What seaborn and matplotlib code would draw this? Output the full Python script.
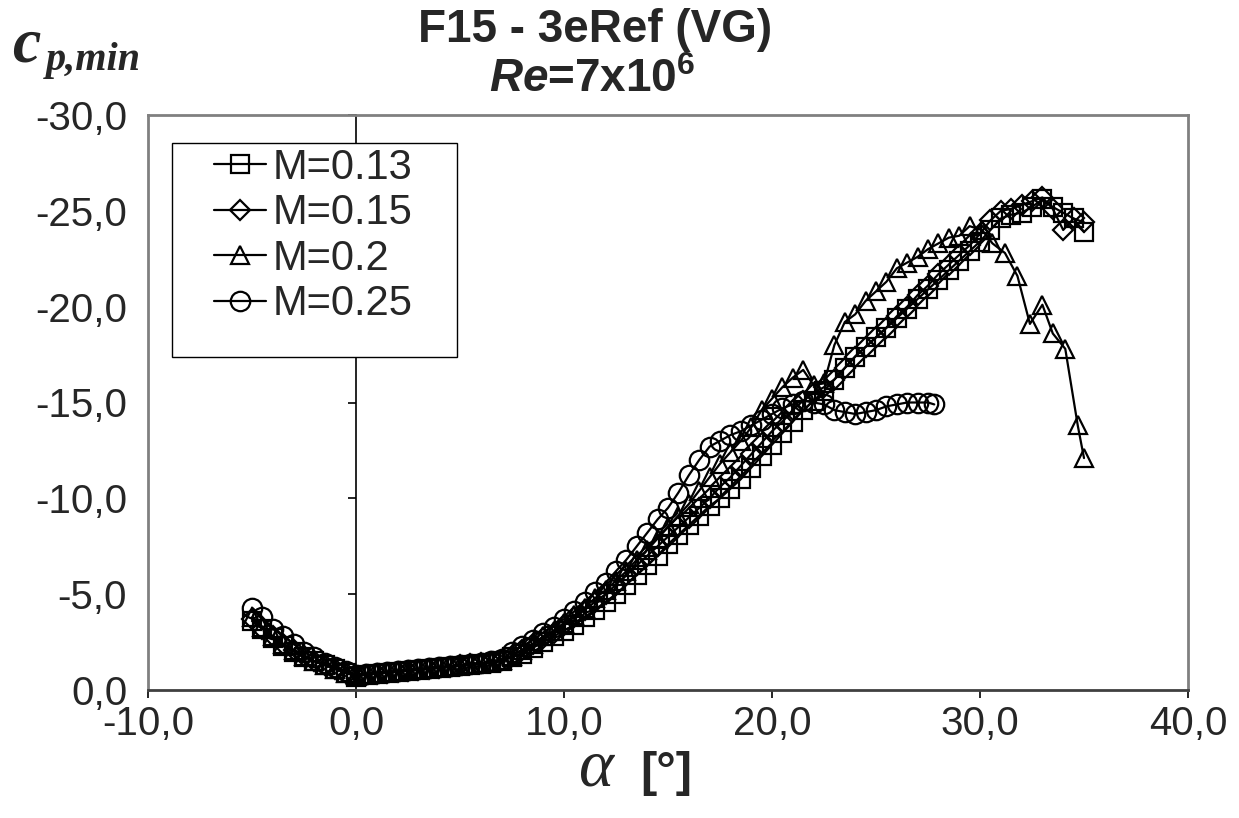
import numpy as np
import pandas as pd
import seaborn as sns
import matplotlib
matplotlib.use("Agg")
import matplotlib.pyplot as plt
from matplotlib.patches import Rectangle

# ---------------- data ----------------
alpha_013 = [-5.0, -4.5, -4.0, -3.5, -3.0, -2.5, -2.0, -1.5, -1.0, -0.5, 0.0,
             0.5, 1.0, 1.5, 2.0, 2.5, 3.0, 3.5, 4.0, 4.5, 5.0, 5.5, 6.0, 6.5, 7.0,
             7.5, 8.0, 8.5, 9.0, 9.5, 10.0, 10.5, 11.0, 11.5, 12.0, 12.5, 13.0, 13.5,
             14.0, 14.5, 15.0, 15.5, 16.0, 16.5, 17.0, 17.5, 18.0, 18.5, 19.0, 19.5,
             20.0, 20.5, 21.0, 21.5, 22.0, 22.5, 23.0, 23.5, 24.0, 24.5, 25.0, 25.5,
             26.0, 26.5, 27.0, 27.5, 28.0, 28.5, 29.0, 29.5, 30.0, 30.5, 31.0, 31.5,
             32.0, 32.5, 33.0, 33.5, 34.0, 34.5, 35.0]
cp_013 = [-3.6, -3.2, -2.7, -2.3, -2.0, -1.7, -1.5, -1.3, -1.1, -0.9, -0.7,
          -0.8, -0.85, -0.9, -0.95, -1.0, -1.05, -1.1, -1.15, -1.2, -1.25, -1.3, -1.35, -1.4, -1.5,
          -1.7, -1.9, -2.2, -2.5, -2.8, -3.1, -3.4, -3.8, -4.2, -4.6, -5.0, -5.5, -6.0,
          -6.5, -7.0, -7.6, -8.1, -8.6, -9.1, -9.6, -10.0, -10.5, -11.0, -11.6, -12.2,
          -12.8, -13.4, -14.0, -14.6, -15.1, -15.6, -16.2, -16.8, -17.4, -17.9, -18.4, -18.9,
          -19.4, -19.9, -20.4, -20.9, -21.4, -21.9, -22.4, -22.9, -23.4, -24.0, -24.6, -24.8,
          -24.9, -25.2, -25.6, -25.2, -24.9, -24.6, -23.9]

alpha_015 = [-5.0, -4.5, -4.0, -3.5, -3.0, -2.5, -2.0, -1.5, -1.0, -0.5, 0.0,
             0.5, 1.0, 1.5, 2.0, 2.5, 3.0, 3.5, 4.0, 4.5, 5.0, 5.5, 6.0, 6.5, 7.0,
             7.5, 8.0, 8.5, 9.0, 9.5, 10.0, 10.5, 11.0, 11.5, 12.0, 12.5, 13.0, 13.5,
             14.0, 14.5, 15.0, 15.5, 16.0, 16.5, 17.0, 17.5, 18.0, 18.5, 19.0, 19.5,
             20.0, 20.5, 21.0, 21.5, 22.0, 22.5, 23.0, 23.5, 24.0, 24.5, 25.0, 25.5,
             26.0, 26.5, 27.0, 27.5, 28.0, 28.5, 29.0, 29.5, 30.0, 30.5, 31.0, 31.5,
             32.0, 32.5, 33.0, 33.5, 34.0, 34.5, 35.0]
cp_015 = [-3.7, -3.2, -2.8, -2.4, -2.1, -1.8, -1.5, -1.3, -1.1, -0.9, -0.75,
          -0.8, -0.85, -0.9, -0.95, -1.0, -1.05, -1.1, -1.15, -1.2, -1.3, -1.35, -1.4, -1.45, -1.55,
          -1.8, -2.1, -2.4, -2.7, -3.0, -3.4, -3.8, -4.2, -4.6, -5.0, -5.5, -6.0, -6.5,
          -7.0, -7.5, -8.0, -8.5, -9.0, -9.5, -10.0, -10.6, -11.1, -11.7, -12.3, -12.9,
          -13.5, -14.0, -14.6, -15.1, -15.5, -15.8, -16.2, -16.8, -17.4, -17.9, -18.4, -18.9,
          -19.5, -20.0, -20.6, -21.1, -21.7, -22.2, -22.7, -23.2, -23.8, -24.5, -25.0, -25.1,
          -25.3, -25.5, -25.7, -25.1, -24.0, -24.6, -24.4]

alpha_020 = [-5.0, -4.5, -4.0, -3.5, -3.0, -2.5, -2.0, -1.5, -1.0, -0.5, 0.0,
             0.5, 1.0, 1.5, 2.0, 2.5, 3.0, 3.5, 4.0, 4.5, 5.0, 5.5, 6.0, 6.5, 7.0,
             7.5, 8.0, 8.5, 9.0, 9.5, 10.0, 10.5, 11.0, 11.5, 12.0, 12.5, 13.0, 13.5,
             14.0, 14.5, 15.0, 15.5, 16.0, 16.5, 17.0, 17.5, 18.0, 18.5, 19.0, 19.5,
             20.0, 20.5, 21.0, 21.5, 22.0, 22.5, 23.0, 23.5, 24.0, 24.5, 25.0, 25.5,
             26.0, 26.5, 27.0, 27.5, 28.0, 28.5, 29.0, 29.5, 30.1, 30.6, 31.2, 31.8,
             32.4, 33.0, 33.5, 34.1, 34.7, 35.0]
cp_020 = [-3.8, -3.3, -2.8, -2.4, -2.1, -1.8, -1.5, -1.3, -1.1, -0.9, -0.8,
          -0.85, -0.9, -0.95, -1.0, -1.05, -1.1, -1.15, -1.2, -1.25, -1.3, -1.35, -1.4, -1.45, -1.55,
          -1.8, -2.1, -2.4, -2.8, -3.1, -3.5, -3.9, -4.3, -4.8, -5.2, -5.7, -6.2, -6.8,
          -7.3, -7.9, -8.5, -9.1, -9.7, -10.4, -11.1, -11.8, -12.4, -13.0, -13.7, -14.6,
          -15.2, -15.8, -16.3, -16.7, -15.9, -16.0, -18.0, -19.2, -19.6, -20.3, -20.8, -21.3,
          -22.0, -22.3, -22.6, -23.0, -23.3, -23.6, -23.7, -24.2, -24.0, -23.3, -22.8, -21.6,
          -19.1, -20.1, -18.6, -17.8, -13.8, -12.1]

alpha_025 = [-5.0, -4.5, -4.0, -3.5, -3.0, -2.5, -2.0, -1.5, -1.0, -0.5, 0.0,
             0.5, 1.0, 1.5, 2.0, 2.5, 3.0, 3.5, 4.0, 4.5, 5.0, 5.5, 6.0, 6.5, 7.0,
             7.5, 8.0, 8.5, 9.0, 9.5, 10.0, 10.5, 11.0, 11.5, 12.0, 12.5, 13.0, 13.5,
             14.0, 14.5, 15.0, 15.5, 16.0, 16.5, 17.0, 17.5, 18.0, 18.5, 19.0, 19.5,
             20.0, 20.5, 21.0, 21.5, 22.0, 22.5, 23.0, 23.5, 24.0, 24.5, 25.0, 25.5,
             26.0, 26.5, 27.0, 27.5, 27.8]
cp_025 = [-4.3, -3.8, -3.2, -2.8, -2.4, -2.0, -1.7, -1.4, -1.2, -1.0, -0.8,
          -0.85, -0.9, -0.95, -1.0, -1.05, -1.1, -1.15, -1.2, -1.25, -1.3, -1.35, -1.4, -1.5, -1.6,
          -2.0, -2.3, -2.6, -3.0, -3.3, -3.7, -4.1, -4.6, -5.1, -5.6, -6.2, -6.8, -7.5,
          -8.2, -8.9, -9.5, -10.3, -11.2, -12.0, -12.7, -13.0, -13.3, -13.5, -13.8, -14.1,
          -14.4, -14.7, -14.9, -15.1, -15.0, -14.9, -14.6, -14.5, -14.4, -14.5, -14.6, -14.8,
          -14.9, -15.0, -15.0, -15.0, -14.9]

series_labels = ["M=0.13", "M=0.15", "M=0.2", "M=0.25"]
series_markers = ["s", "D", "^", "o"]
x_ticks = [-10, 0, 10, 20, 30, 40]
y_ticks = [-30, -25, -20, -15, -10, -5, 0]

# ---------------- figure ----------------
sns.set_style("white")
plt.rcParams["font.family"] = ["Liberation Sans", "DejaVu Sans"]
plt.rcParams["mathtext.fontset"] = "custom"
plt.rcParams["mathtext.it"] = "Liberation Sans:italic:bold"
plt.rcParams["mathtext.rm"] = "Liberation Sans:bold"
plt.rcParams["mathtext.bf"] = "Liberation Sans:bold"

W, H = 1239, 818
fig = plt.figure(figsize=(W / 100, H / 100), dpi=100)
ax = fig.add_axes([148 / W, 1 - 690 / H, (1188 - 148) / W, (690 - 115) / H])

data = [(alpha_013, cp_013), (alpha_015, cp_015), (alpha_020, cp_020), (alpha_025, cp_025)]
msizes = {"s": 13, "D": 10, "^": 13, "o": 14}
for (a, c), lab, mk in zip(data, series_labels, series_markers):
    df = pd.DataFrame({"alpha": a, "cp": c})
    sns.lineplot(data=df, x="alpha", y="cp", ax=ax, color="black", lw=1.6,
                 marker=mk, markersize=msizes[mk], markerfacecolor="none",
                 markeredgecolor="black", mew=1.6, label=lab, legend=False,
                 sort=False, estimator=None)

ax.set_xlim(-10, 40)
ax.set_ylim(0, -30)
ax.set_xticks(x_ticks)
ax.set_yticks(y_ticks)
ax.set_xticklabels([f"{v:.1f}".replace(".", ",") for v in x_ticks])
ax.set_yticklabels([f"{v:.1f}".replace(".", ",") for v in y_ticks])
ax.set_xlabel("")
ax.set_ylabel("")

for s in ax.spines.values():
    s.set_color("#808080")
    s.set_linewidth(2)
ax.spines["bottom"].set_color("#404040")

ax.tick_params(axis="x", which="both", direction="out", length=6, width=1.2,
               color="black", labelsize=29, pad=5, bottom=True)
ax.tick_params(axis="y", which="both", length=0, labelsize=29, pad=15, left=True)

# y-axis line crossing at alpha = 0
sec = ax.secondary_yaxis(0.2)
sec.set_yticks(y_ticks)
sec.tick_params(axis="y", direction="out", length=6, width=1.2, color="black",
                labelleft=False, labelright=False)
sec.spines["left"].set_color("black")
sec.spines["left"].set_linewidth(1.2)

# legend (frame drawn separately)
leg = ax.legend(loc="upper left", bbox_to_anchor=(214 / W, 1 - 148 / H),
                bbox_transform=fig.transFigure, fontsize=30,
                frameon=False, handlelength=1.25, handletextpad=0.15,
                borderpad=0, labelspacing=0.13, borderaxespad=0)
frame = Rectangle((172 / W, 1 - 357 / H), (457 - 172) / W, (357 - 143) / H,
                  transform=fig.transFigure, fill=True, facecolor="white",
                  edgecolor="black", linewidth=1.0, zorder=4)
ax.add_patch(frame)
leg.set_zorder(6)

# titles
fig.text(595 / W, 1 - 30 / H, "F15 - 3eRef (VG)", ha="center", va="center",
         fontsize=33, fontweight="bold")
fig.text(592 / W, 1 - 80 / H, r"$\mathit{Re}$=7x10$^{6}$", ha="center",
         va="center", fontsize=33, fontweight="bold")

# y label c_p,min
fig.text(12 / W, 1 - 62 / H, "c", fontsize=46, fontfamily="Liberation Serif",
         style="italic", fontweight="bold", ha="left", va="baseline")
fig.text(46 / W, 1 - 70 / H, "p,min", fontsize=29, fontfamily="Liberation Serif",
         style="italic", fontweight="bold", ha="left", va="baseline")

# x label
fig.text(596 / W, 1 - 786 / H, "α", fontsize=48, fontfamily="Liberation Serif",
         style="italic", ha="center", va="baseline")
fig.text(666 / W, 1 - 786 / H, "[°]", fontsize=35, fontweight="bold",
         ha="center", va="baseline")

fig.savefig("out.png", dpi=100)
